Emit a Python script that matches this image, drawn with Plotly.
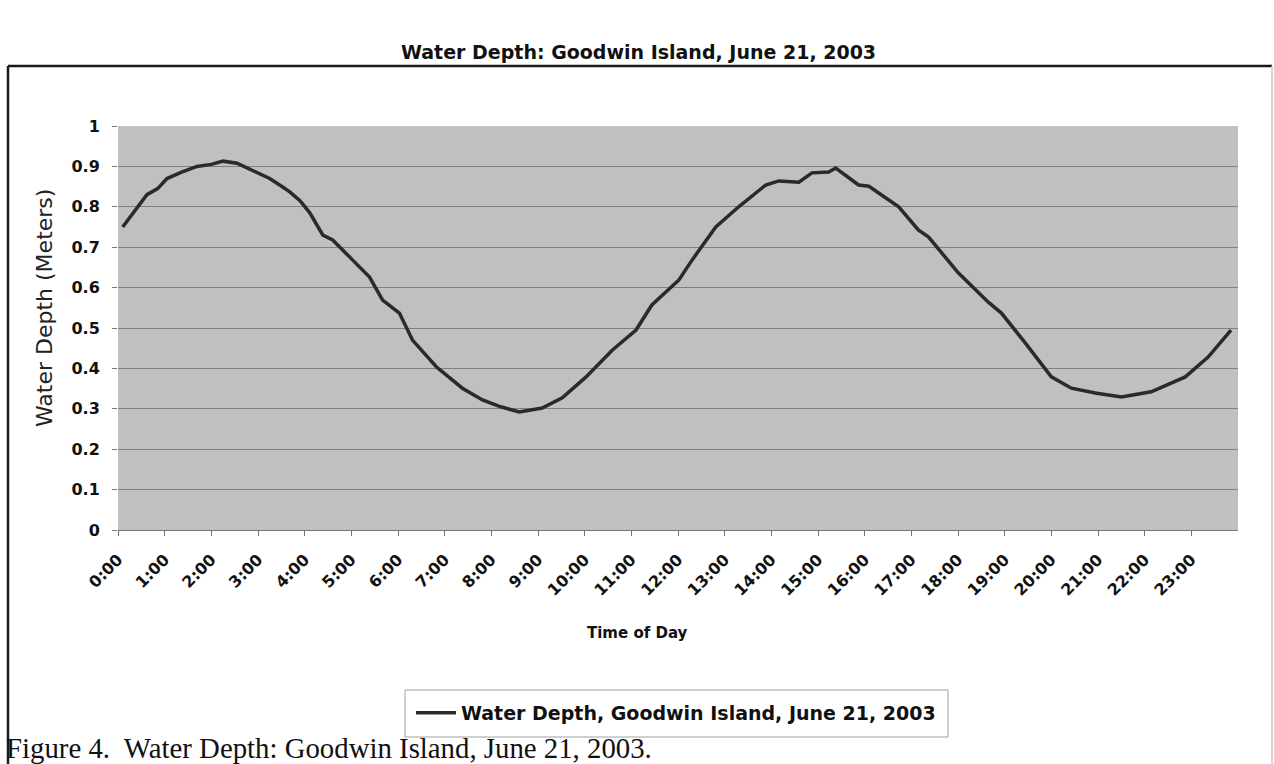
import plotly.graph_objects as go

# Tide gauge readings (hours after midnight, depth in metres)
hours = [0.10, 0.35, 0.62, 0.85, 1.05, 1.35, 1.69, 2.00, 2.25, 2.55, 2.97, 3.25,
         3.53, 3.68, 3.90, 4.11, 4.39, 4.60, 5.03, 5.39, 5.67, 6.03, 6.31, 6.82,
         7.38, 7.81, 8.20, 8.60, 9.09, 9.52, 10.03, 10.59, 11.10, 11.44, 12.02,
         12.30, 12.81, 13.30, 13.88, 14.16, 14.59, 14.87, 15.23, 15.38, 15.87,
         16.09, 16.73, 17.15, 17.37, 18.01, 18.65, 18.93, 19.44, 20.00, 20.43,
         20.94, 21.50, 22.14, 22.87, 23.36, 23.85]
depth = [0.750, 0.790, 0.830, 0.845, 0.870, 0.885, 0.900, 0.905, 0.913, 0.908,
         0.884, 0.870, 0.849, 0.837, 0.815, 0.785, 0.730, 0.718, 0.668, 0.626,
         0.569, 0.537, 0.470, 0.404, 0.351, 0.322, 0.305, 0.292, 0.302, 0.327,
         0.379, 0.445, 0.495, 0.557, 0.619, 0.668, 0.750, 0.800, 0.854, 0.864,
         0.861, 0.884, 0.886, 0.896, 0.854, 0.851, 0.800, 0.743, 0.725, 0.636,
         0.564, 0.537, 0.463, 0.379, 0.351, 0.339, 0.329, 0.342, 0.379, 0.428,
         0.495]

tick_hours = list(range(24))
tick_text = [f"{h}:00" for h in tick_hours]
y_ticks = [0, 0.1, 0.2, 0.3, 0.4, 0.5, 0.6, 0.7, 0.8, 0.9, 1]
y_text = ["0", "0.1", "0.2", "0.3", "0.4", "0.5", "0.6", "0.7", "0.8", "0.9", "1"]

series_name = "Water Depth, Goodwin Island, June 21, 2003"
chart_title = "Water Depth: Goodwin Island, June 21, 2003"
x_title = "Time of Day"
y_title = "Water Depth (Meters)"
caption = "Figure 4.  Water Depth: Goodwin Island, June 21, 2003."

W, H = 1274, 764
L, R, T, B = 118, 36, 126, 234
pw, ph = W - L - R, H - T - B


def px(x):
    return (x - L) / pw


def py(y):
    return (H - B - y) / ph


sans = "DejaVu Sans"
fig = go.Figure()
fig.add_trace(go.Scatter(
    x=hours, y=depth, mode="lines", name=series_name,
    line=dict(color="#2a2a2a", width=3.5),
))

fig.update_layout(
    width=W, height=H,
    margin=dict(l=L, r=R, t=T, b=B, pad=0),
    paper_bgcolor="white",
    plot_bgcolor="#c0c0c0",
    showlegend=True,
    legend=dict(
        x=px(676), y=py(713), xanchor="center", yanchor="middle",
        borderwidth=0, bgcolor="rgba(0,0,0,0)",
        font=dict(family=sans, size=19, color="#111", weight="bold"),
        itemwidth=40,
    ),
    xaxis=dict(
        range=[0, 24], tickmode="array", tickvals=tick_hours, ticktext=tick_text,
        tickangle=-45, ticks="outside", ticklen=5, tickcolor="#777",
        ticklabelstandoff=8,
        showgrid=False, zeroline=False, showline=True, linecolor="#777", linewidth=1,
        tickfont=dict(family=sans, size=16, color="#111", weight="bold"),
    ),
    yaxis=dict(
        range=[0, 1], tickmode="array", tickvals=y_ticks, ticktext=y_text,
        ticks="outside", ticklen=5, tickcolor="#777",
        ticklabelstandoff=9,
        showgrid=True, gridcolor="#808080", gridwidth=1,
        zeroline=False, showline=False,
        tickfont=dict(family=sans, size=16, color="#111", weight="bold"),
    ),
    font=dict(family=sans, color="#111"),
)

annotations = [
    dict(text=f"<b>{chart_title}</b>", x=px(638), y=py(52), xanchor="center",
         yanchor="middle", font=dict(family=sans, size=19, color="#111")),
    dict(text=f"<b>{x_title}</b>", x=px(637), y=py(633), xanchor="center",
         yanchor="middle", font=dict(family=sans, size=15, color="#111")),
    dict(text=y_title, x=px(44), y=py(308), xanchor="center", yanchor="middle",
         textangle=-90, font=dict(family=sans, size=22, color="#222")),
    dict(text=caption, x=px(4), y=py(766), xanchor="left", yanchor="bottom",
         font=dict(family="Liberation Serif", size=28.8, color="#111")),
]
for a in annotations:
    a.update(xref="paper", yref="paper", showarrow=False)
fig.update_layout(annotations=annotations)

# Frame around the chart: dark top and left edges, light right edge
fig.add_shape(type="line", xref="paper", yref="paper",
              x0=px(8), x1=px(1272), y0=py(66), y1=py(66),
              line=dict(color="#1a1a1a", width=2.5))
fig.add_shape(type="line", xref="paper", yref="paper",
              x0=px(8), x1=px(8), y0=py(66), y1=py(764),
              line=dict(color="#1a1a1a", width=2.5))
fig.add_shape(type="line", xref="paper", yref="paper",
              x0=px(1272), x1=px(1272), y0=py(66), y1=py(764),
              line=dict(color="#c8c8c8", width=1.5))
# Legend frame
fig.add_shape(type="rect", xref="paper", yref="paper",
              x0=px(405), x1=px(948), y0=py(690), y1=py(737),
              line=dict(color="#a0a0a0", width=1), fillcolor="white", layer="below")

fig.write_html("out.html")
